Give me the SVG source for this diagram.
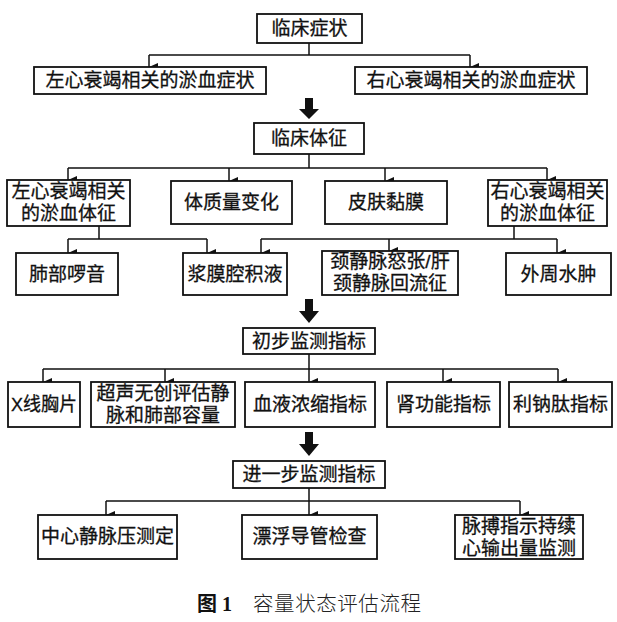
<svg xmlns="http://www.w3.org/2000/svg" width="617" height="622" viewBox="0 0 617 622">
<defs>
<marker id="ah" markerUnits="userSpaceOnUse" markerWidth="8" markerHeight="9" refX="4" refY="9" orient="auto-start-reverse" viewBox="0 0 8 9">
<path d="M0,0 L8,0 L4,9 Z" fill="#111"/>
</marker>
<style>
.box{fill:#fff;stroke:#111;stroke-width:1.8}
.t{font-family:"Liberation Sans","Noto Sans CJK SC",sans-serif;font-size:19px;fill:#111;stroke:#111;stroke-width:0.3;text-anchor:middle}
.c{fill:none;stroke:#111;stroke-width:1.5}
.a{fill:none;stroke:#111;stroke-width:1.5;marker-end:url(#ah)}
.big{fill:#111}
</style>
</defs>
<rect width="617" height="622" fill="#fff"/>

<g id="connectors">
<path class="c" d="M309,43 V55 M149,55 H470"/>
<path class="a" d="M149,55 V67"/>
<path class="a" d="M470,55 V67"/>
<polygon class="big" points="305,98 313,98 313,109 319,109 309,119 299,109 305,109"/>

<path class="c" d="M309,154 V168 M68,168 H547"/>
<path class="a" d="M68,168 V180"/>
<path class="a" d="M229,168 V181"/>
<path class="a" d="M385,168 V181"/>
<path class="a" d="M547,168 V180"/>

<path class="c" d="M99,226 V239 M68,239 H207"/>
<path class="a" d="M68,239 V253"/>
<path class="a" d="M207,239 V253"/>
<path class="c" d="M514,226 V239 M261,239 H557"/>
<path class="a" d="M261,239 V253"/>
<path class="a" d="M389,239 V251"/>
<path class="a" d="M557,239 V253"/>
<polygon class="big" points="305,299 313,299 313,311 319,311 309,323 299,311 305,311"/>

<path class="c" d="M309,354 V369 M43,369 H558"/>
<path class="a" d="M43,369 V382"/>
<path class="a" d="M165,369 V382"/>
<path class="a" d="M309,369 V382"/>
<path class="a" d="M443,369 V382"/>
<path class="a" d="M558,369 V382"/>
<polygon class="big" points="305,432 313,432 313,444 319,444 309,456 299,444 305,444"/>

<path class="c" d="M309,488 V501 M106,501 H520"/>
<path class="a" d="M106,501 V515"/>
<path class="a" d="M309,501 V515"/>
<path class="a" d="M520,501 V515"/>
</g>

<g id="n_symptoms"><rect class="box" x="257" y="14" width="105" height="29"/><text class="t" x="309.5" y="35">临床症状</text></g>
<g id="n_left_sym"><rect class="box" x="34" y="67" width="232" height="27"/><text class="t" x="150" y="87">左心衰竭相关的淤血症状</text></g>
<g id="n_right_sym"><rect class="box" x="355" y="67" width="232" height="27"/><text class="t" x="471" y="87">右心衰竭相关的淤血症状</text></g>

<g id="n_signs"><rect class="box" x="254" y="123" width="110" height="31"/><text class="t" x="309" y="145">临床体征</text></g>
<g id="n_left_sign"><rect class="box" x="7" y="180" width="123" height="46"/><text class="t" x="68.5" y="198"><tspan x="68.5">左心衰竭相关</tspan><tspan x="68.5" dy="22">的淤血体征</tspan></text></g>
<g id="n_weight"><rect class="box" x="171" y="181" width="121" height="43"/><text class="t" x="231.5" y="209">体质量变化</text></g>
<g id="n_skin"><rect class="box" x="325" y="181" width="122" height="43"/><text class="t" x="386" y="209">皮肤黏膜</text></g>
<g id="n_right_sign"><rect class="box" x="488" y="180" width="119" height="46"/><text class="t" x="547.5" y="198"><tspan x="547.5">右心衰竭相关</tspan><tspan x="547.5" dy="22">的淤血体征</tspan></text></g>

<g id="n_lung"><rect class="box" x="16" y="253" width="102" height="42"/><text class="t" x="67" y="281">肺部啰音</text></g>
<g id="n_serous"><rect class="box" x="183" y="253" width="104" height="42"/><text class="t" x="235" y="281">浆膜腔积液</text></g>
<g id="n_jugular"><rect class="box" x="322" y="251" width="136" height="44"/><text class="t" x="390" y="268"><tspan x="390">颈静脉怒张/肝</tspan><tspan x="390" dy="22">颈静脉回流征</tspan></text></g>
<g id="n_edema"><rect class="box" x="506" y="253" width="105" height="42"/><text class="t" x="558.5" y="281">外周水肿</text></g>

<g id="n_initial"><rect class="box" x="243" y="328" width="132" height="26"/><text class="t" x="309" y="348">初步监测指标</text></g>
<g id="n_xray"><rect class="box" x="8" y="382" width="72" height="45"/><text class="t" x="44" y="411" textLength="66" lengthAdjust="spacingAndGlyphs">X线胸片</text></g>
<g id="n_us"><rect class="box" x="91" y="382" width="144" height="45"/><text class="t" x="163" y="400"><tspan x="163">超声无创评估静</tspan><tspan x="163" dy="22">脉和肺部容量</tspan></text></g>
<g id="n_conc"><rect class="box" x="245" y="382" width="130" height="45"/><text class="t" x="310" y="411">血液浓缩指标</text></g>
<g id="n_renal"><rect class="box" x="387" y="382" width="113" height="45"/><text class="t" x="443.5" y="411">肾功能指标</text></g>
<g id="n_bnp"><rect class="box" x="509" y="382" width="103" height="45"/><text class="t" x="560.5" y="411">利钠肽指标</text></g>

<g id="n_further"><rect class="box" x="233" y="461" width="152" height="27"/><text class="t" x="309" y="481">进一步监测指标</text></g>
<g id="n_cvp"><rect class="box" x="38" y="515" width="139" height="44"/><text class="t" x="107.5" y="543">中心静脉压测定</text></g>
<g id="n_swan"><rect class="box" x="242" y="515" width="135" height="44"/><text class="t" x="309.5" y="543">漂浮导管检查</text></g>
<g id="n_picco"><rect class="box" x="455" y="515" width="128" height="44"/><text class="t" x="519" y="533"><tspan x="519">脉搏指示持续</tspan><tspan x="519" dy="22">心输出量监测</tspan></text></g>

<g id="caption">
<text x="197" y="611" font-family="'Liberation Serif','Noto Sans CJK SC',serif" font-size="20" font-weight="bold" fill="#111">图 1</text>
<text x="253" y="611" font-family="'Liberation Serif','Noto Sans CJK SC',serif" font-size="20.5" font-weight="300" fill="#222" textLength="168">容量状态评估流程</text>
</g>
</svg>
